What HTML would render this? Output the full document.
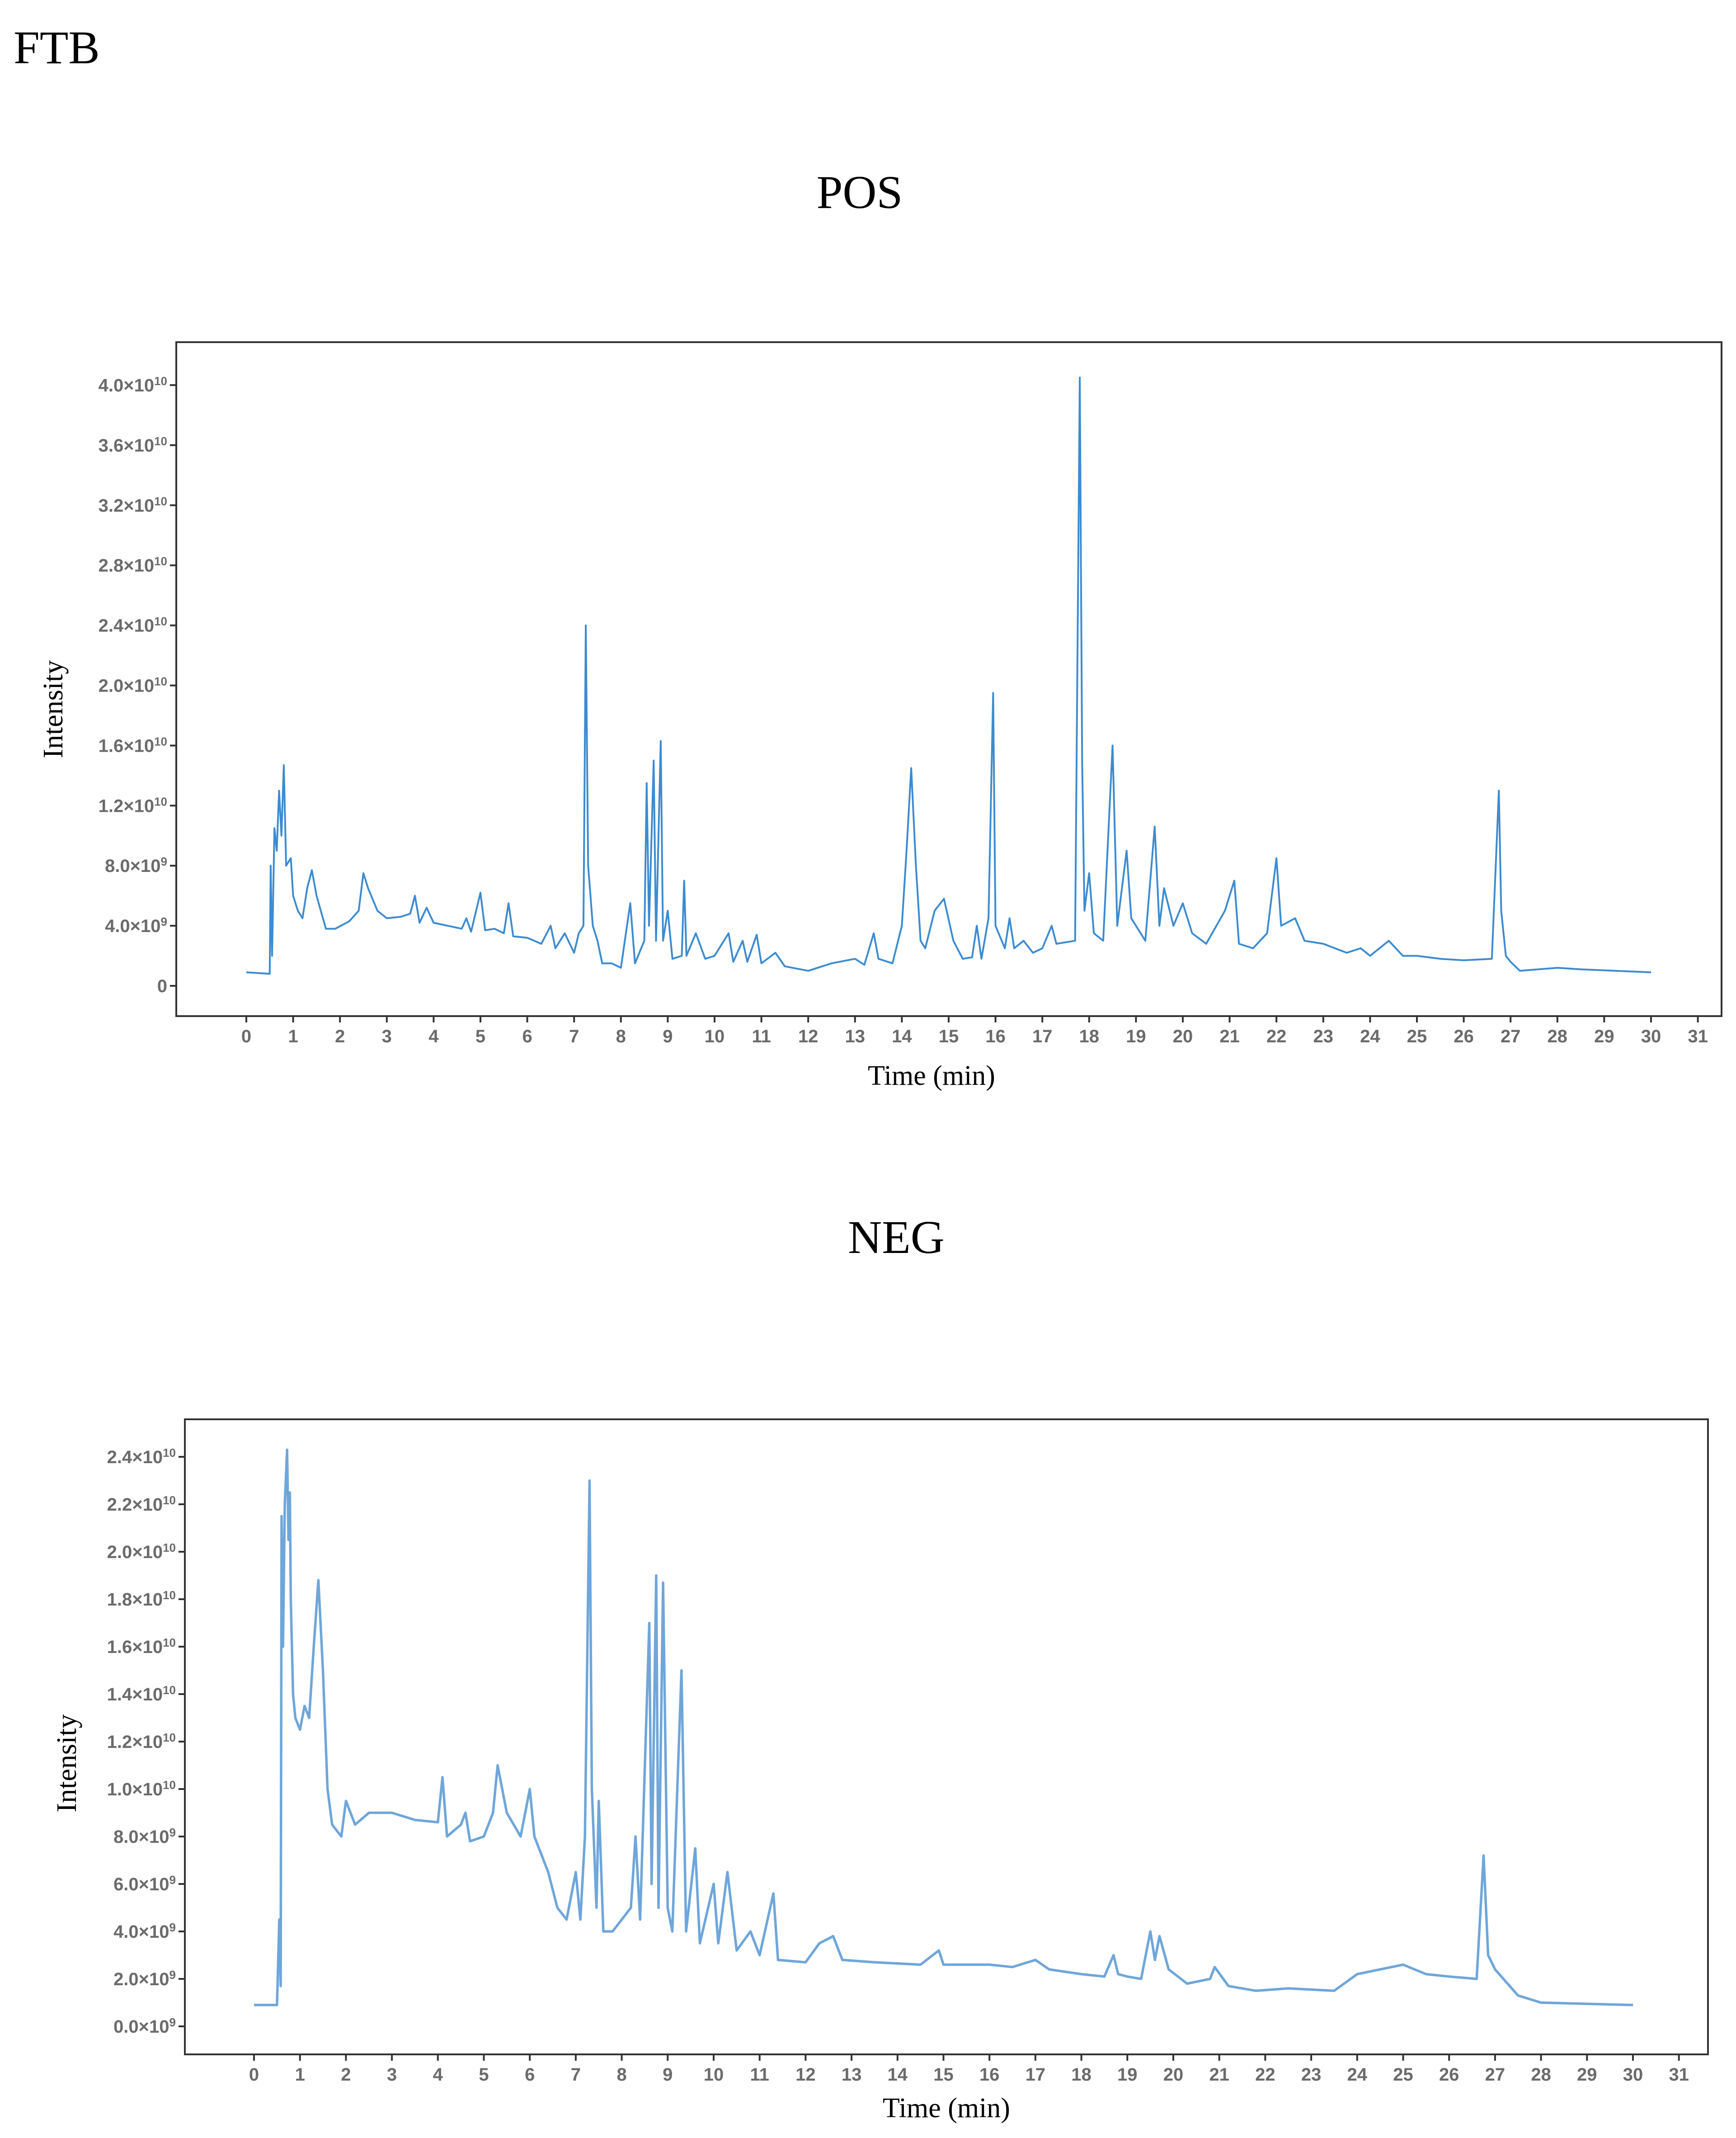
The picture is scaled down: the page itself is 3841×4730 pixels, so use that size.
<!DOCTYPE html>
<html><head><meta charset="utf-8">
<style>
html,body{margin:0;padding:0;background:#fff;}
svg{display:block;}
.tl{font-family:"Liberation Serif",serif;fill:#000;}
.tk{font-family:"Liberation Sans",sans-serif;font-weight:bold;fill:#6b6b6b;}
</style></head>
<body>
<svg id="fig" width="3841" height="4730" viewBox="0 0 3841 4730" xmlns="http://www.w3.org/2000/svg">
<text class="tl" x="30" y="140" font-size="104">FTB</text>
<text class="tl" x="1902" y="460" font-size="104" text-anchor="middle">POS</text>
<text class="tl" x="1983" y="2772" font-size="104" text-anchor="middle">NEG</text>
<g id="pos"></g>
<g id="neg"></g>
</svg>
<script>
// x-axis ticks (minutes)
const xTicks = [0,1,2,3,4,5,6,7,8,9,10,11,12,13,14,15,16,17,18,19,20,21,22,23,24,25,26,27,28,29,30,31];
// POS chromatogram (time in min, intensity in 1e9)
const posTime = [0,0.5,0.52,0.55,0.6,0.65,0.7,0.75,0.8,0.85,0.95,1.0,1.1,1.2,1.3,1.4,1.5,1.7,1.9,2.2,2.4,2.5,2.6,2.8,3.0,3.3,3.5,3.6,3.7,3.85,4.0,4.3,4.6,4.7,4.8,5.0,5.1,5.3,5.5,5.6,5.7,6.0,6.3,6.5,6.6,6.8,7.0,7.1,7.2,7.25,7.3,7.4,7.5,7.6,7.8,8.0,8.2,8.3,8.5,8.55,8.6,8.7,8.75,8.85,8.9,9.0,9.1,9.3,9.35,9.4,9.6,9.8,10.0,10.3,10.4,10.6,10.7,10.9,11.0,11.3,11.5,12.0,12.5,13.0,13.2,13.4,13.5,13.8,14.0,14.1,14.2,14.3,14.4,14.5,14.7,14.9,15.1,15.3,15.5,15.6,15.7,15.85,15.95,16.0,16.2,16.3,16.4,16.6,16.8,17.0,17.2,17.3,17.7,17.8,17.85,17.9,18.0,18.1,18.3,18.5,18.6,18.8,18.9,19.2,19.4,19.5,19.6,19.8,20.0,20.2,20.5,20.9,21.1,21.2,21.5,21.8,22.0,22.1,22.4,22.6,23.0,23.5,23.8,24.0,24.4,24.7,25.0,25.5,26.0,26.6,26.75,26.8,26.9,27.0,27.2,28.0,28.5,30.0];
const posValue = [0.9,0.8,8,2,10.5,9,13,10,14.7,8,8.5,6,5,4.5,6.5,7.7,6,3.8,3.8,4.3,5,7.5,6.5,5,4.5,4.6,4.8,6,4.2,5.2,4.2,4,3.8,4.5,3.6,6.2,3.7,3.8,3.5,5.5,3.3,3.2,2.8,4,2.5,3.5,2.2,3.5,4,24,8,4,3,1.5,1.5,1.2,5.5,1.5,3,13.5,4,15,3,16.3,3,5,1.8,2,7,2,3.5,1.8,2,3.5,1.6,3,1.6,3.4,1.5,2.2,1.3,1.0,1.5,1.8,1.4,3.5,1.8,1.5,4,9,14.5,8,3,2.5,5,5.8,3,1.8,1.9,4,1.8,4.5,19.5,4,2.5,4.5,2.5,3,2.2,2.5,4,2.8,3,40.5,15,5,7.5,3.5,3,16,4,9,4.5,3,10.6,4,6.5,4,5.5,3.5,2.8,5,7,2.8,2.5,3.5,8.5,4,4.5,3,2.8,2.2,2.5,2,3,2,2,1.8,1.7,1.8,13,5,2,1.6,1.0,1.2,1.1,0.9];
const posYTicks = [0,4,8,12,16,20,24,28,32,36,40];
const posYLabels = ["0","4.0×10|9","8.0×10|9","1.2×10|10","1.6×10|10","2.0×10|10","2.4×10|10","2.8×10|10","3.2×10|10","3.6×10|10","4.0×10|10"];
// NEG chromatogram
const negTime = [0,0.5,0.55,0.58,0.6,0.63,0.67,0.72,0.75,0.78,0.8,0.85,0.9,1.0,1.1,1.2,1.3,1.4,1.5,1.6,1.7,1.9,2.0,2.2,2.5,3.0,3.5,4.0,4.1,4.2,4.5,4.6,4.7,5.0,5.2,5.3,5.5,5.8,6.0,6.1,6.4,6.6,6.8,7.0,7.1,7.2,7.3,7.35,7.45,7.5,7.6,7.8,8.0,8.2,8.3,8.4,8.6,8.65,8.75,8.8,8.9,9.0,9.1,9.3,9.4,9.6,9.7,10.0,10.1,10.3,10.5,10.8,11.0,11.3,11.4,12.0,12.3,12.6,12.8,13.5,14.5,14.9,15.0,16.0,16.5,17.0,17.3,18.0,18.5,18.7,18.8,19.0,19.3,19.5,19.6,19.7,19.9,20.3,20.8,20.9,21.2,21.8,22.5,23.5,24.0,24.5,25.0,25.5,26.0,26.6,26.75,26.85,27.0,27.5,28.0,30.0];
const negValue = [0.9,0.9,4.5,1.7,21.5,16,22,24.3,20.5,22.5,18,14,13,12.5,13.5,13,16,18.8,15,10,8.5,8,9.5,8.5,9,9,8.7,8.6,10.5,8,8.5,9,7.8,8,9,11,9,8,10,8,6.5,5,4.5,6.5,4.5,8,23,10,5,9.5,4,4,4.5,5,8,4.5,17,6,19,5,18.7,5,4,15,4,7.5,3.5,6,3.5,6.5,3.2,4,3,5.6,2.8,2.7,3.5,3.8,2.8,2.7,2.6,3.2,2.6,2.6,2.5,2.8,2.4,2.2,2.1,3,2.2,2.1,2,4,2.8,3.8,2.4,1.8,2.0,2.5,1.7,1.5,1.6,1.5,2.2,2.4,2.6,2.2,2.1,2.0,7.2,3,2.4,1.3,1.0,0.9];
const negYTicks = [0,2,4,6,8,10,12,14,16,18,20,22,24];
const negYLabels = ["0.0×10|9","2.0×10|9","4.0×10|9","6.0×10|9","8.0×10|9","1.0×10|10","1.2×10|10","1.4×10|10","1.6×10|10","1.8×10|10","2.0×10|10","2.2×10|10","2.4×10|10"];

const NS="http://www.w3.org/2000/svg";
function mk(tag, attrs, parent){const e=document.createElementNS(NS,tag);for(const k in attrs)e.setAttribute(k,attrs[k]);parent.appendChild(e);return e;}

function draw(g, cfg, times, values, yTicks, yLabels){
  const xs=t=>cfg.x0+t*cfg.xPer;
  const ys=v=>cfg.yZero+(cfg.yTop-cfg.yZero)*v/cfg.yMax;
  const frame=mk('rect',{x:cfg.L,y:cfg.T,width:cfg.R-cfg.L,height:cfg.B-cfg.T,fill:'none',stroke:'#333',"stroke-width":4},g);
  
  
  yTicks.forEach((v,i)=>{
    const y=ys(v);
    const tk=mk('line',{x1:cfg.L-14,x2:cfg.L,y1:y,y2:y,stroke:'#333',"stroke-width":4},g);
    
    
    const parts=yLabels[i].split('|');
    const t=mk('text',{x:cfg.L-20,y:y+14,"text-anchor":"end","font-size":40,class:"tk"},g);
    
    
    t.textContent=parts[0];
    if(parts[1]){const s=mk('tspan',{"font-size":26,dy:-14},t);s.textContent=parts[1];}
  });
  xTicks.forEach(v=>{
    const x=xs(v);
    const tk=mk('line',{x1:x,x2:x,y1:cfg.B,y2:cfg.B+14,stroke:'#333',"stroke-width":4},g);
    
    
    const t=mk('text',{x:x,y:cfg.B+58,"text-anchor":"middle","font-size":40,class:"tk"},g);
    
    
    t.textContent=v;
  });
  let d='';
  times.forEach((t,i)=>{d+=(i?'L':'M')+xs(t).toFixed(1)+' '+ys(values[i]).toFixed(1);});
  const p=mk('path',{d:d,fill:'none',stroke:cfg.color,"stroke-width":cfg.sw,"stroke-linejoin":"round"},g);
  
  
  const xt=mk('text',{x:cfg.xtX,y:cfg.xtY,"text-anchor":"middle","font-size":62,class:"tl"},g);
  
  
  xt.textContent='Time (min)';
  const yt=mk('text',{x:0,y:0,"text-anchor":"middle","font-size":62,class:"tl",transform:`translate(${cfg.ytX},${cfg.ytY}) rotate(-90)`},g);
  
  
  yt.textContent='Intensity';
}
draw(document.getElementById('pos'),
 {L:390,R:3809,T:757,B:2248,x0:545,xPer:103.6,yZero:2181,yTop:852,yMax:40,color:'#3d8bd0',sw:4,xtX:2061,xtY:2400,ytX:138,ytY:1569},
 posTime,posValue,posYTicks,posYLabels);
draw(document.getElementById('neg'),
 {L:409,R:3779,T:3140,B:4545,x0:562,xPer:101.7,yZero:4483,yTop:3223,yMax:24,color:'#6fa6da',sw:5.5,xtX:2094,xtY:4684,ytX:168,ytY:3901},
 negTime,negValue,negYTicks,negYLabels);
</script>
</body></html>
